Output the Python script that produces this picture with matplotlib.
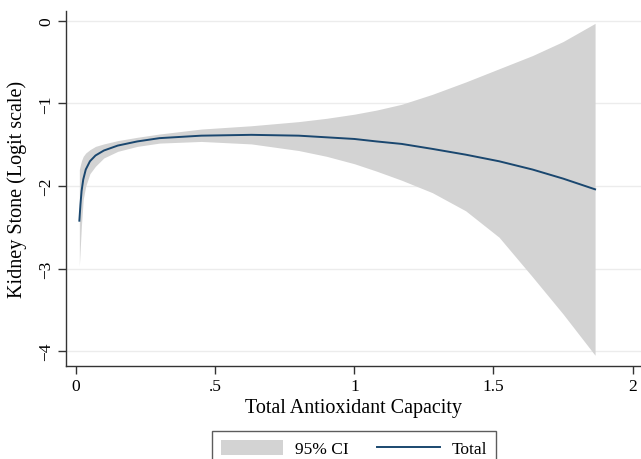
import matplotlib
matplotlib.use("Agg")
import matplotlib.pyplot as plt
from matplotlib.patches import Patch
from matplotlib.lines import Line2D

plt.rcParams['font.family'] = ['Liberation Serif', 'DejaVu Serif']

# spline fit
tac = [0.012, 0.016, 0.02, 0.026, 0.035, 0.05, 0.07, 0.1, 0.15, 0.22, 0.3,
       0.45, 0.63, 0.8, 0.9, 1.0, 1.08, 1.17, 1.28, 1.4, 1.52, 1.64, 1.75, 1.865]
fit = [-2.42, -2.22, -2.06, -1.92, -1.80, -1.70, -1.63, -1.57, -1.51, -1.46, -1.42,
       -1.39, -1.38, -1.39, -1.41, -1.43, -1.46, -1.49, -1.55, -1.62, -1.70, -1.80,
       -1.91, -2.04]
upper = [-1.80, -1.74, -1.69, -1.64, -1.60, -1.56, -1.52, -1.49, -1.45, -1.41, -1.37,
         -1.31, -1.27, -1.22, -1.18, -1.13, -1.08, -1.01, -0.89, -0.74, -0.58, -0.42,
         -0.25, -0.03]
lower = [-2.97, -2.70, -2.45, -2.16, -2.00, -1.85, -1.76, -1.66, -1.58, -1.52, -1.48,
         -1.46, -1.49, -1.57, -1.64, -1.73, -1.82, -1.93, -2.08, -2.30, -2.62, -3.10,
         -3.55, -4.05]

xticks = [0, 0.5, 1, 1.5, 2]
xlabels = ['0', '.5', '1', '1.5', '2']
yticks = [0, -1, -2, -3, -4]
ylabels = ['0', '\u22121', '\u22122', '\u22123', '\u22124']

fig = plt.figure(figsize=(6.41, 4.60), dpi=100)
ax = fig.add_axes([66/641, 1 - 367/460, 1 - 66/641, (367 - 12)/460])

gray = '#d3d3d3'
navy = '#1a476f'

ax.fill_between(tac, lower, upper, color=gray, linewidth=0)
ax.plot(tac, fit, color=navy, linewidth=1.4)

ax.set_xlim(-0.036, 2.03)
ax.set_ylim(-4.18, 0.12)
ax.set_xticks(xticks)
ax.set_xticklabels(xlabels)
ax.set_yticks(yticks)
ax.set_yticklabels(ylabels, rotation=90, va='center')
ax.yaxis.grid(True, color='#ececec', linewidth=1)
ax.set_axisbelow(True)

for s in ['top', 'right']:
    ax.spines[s].set_visible(False)
for s in ['left', 'bottom']:
    ax.spines[s].set_color('#333333')
    ax.spines[s].set_linewidth(1)
ax.tick_params(direction='out', length=6, width=1, color='#333333',
               labelsize=12.5, pad=2.5)

ax.set_xlabel('Total Antioxidant Capacity', fontsize=14.5, labelpad=3)
ax.set_ylabel('Kidney Stone (Logit scale)', fontsize=14.5, labelpad=8)

handles = [Patch(facecolor=gray, edgecolor='none'),
           Line2D([0], [0], color=navy, linewidth=1.4)]
leg = fig.legend(handles, ['95% CI', 'Total'], loc='upper center',
                 bbox_to_anchor=(354/641, 1 - 432/460), ncol=2, fontsize=12.5,
                 frameon=True, fancybox=False, edgecolor='#333333',
                 handlelength=3.6, handleheight=1.0, handletextpad=0.7,
                 columnspacing=1.6, borderpad=0.5, borderaxespad=0)
leg.get_frame().set_linewidth(1)

fig.savefig('out.png', dpi=100)
